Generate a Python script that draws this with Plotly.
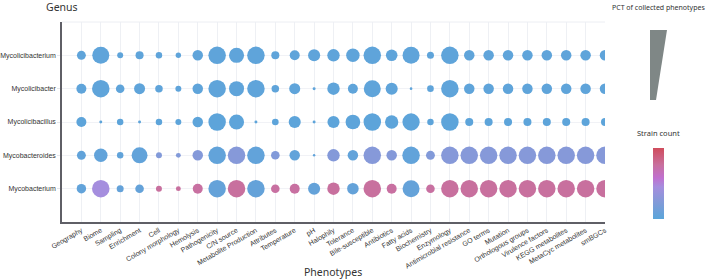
import plotly.graph_objects as go

phenotypes = ["Geography", "Biome", "Sampling", "Enrichment", "Cell", "Colony morphology",
              "Hemolysis", "Pathogenicity", "C/N source", "Metabolite Production", "Attributes",
              "Temperature", "pH", "Halophily", "Tolerance", "Bile-susceptible", "Antibiotics",
              "Fatty acids", "Biochemistry", "Enzymology", "Antimicrobial resistance", "GO terms",
              "Mutation", "Orthologous groups", "Virulence factors", "KEGG metabolites",
              "MetaCyc metabolites", "smBGCs"]

genera = ["Mycobacterium", "Mycobacteroides", "Mycolicibacillus", "Mycolicibacter", "Mycolicibacterium"]

# PCT of collected phenotypes (per genus, per phenotype)
pct_mycolicibacterium = [51, 97, 34, 46, 37, 31, 60, 100, 86, 100, 46, 57, 69, 71, 77, 100, 66, 97, 40, 100,
                         60, 60, 60, 60, 60, 60, 60, 60]
pct_mycolicibacter = [57, 100, 49, 63, 43, 34, 60, 100, 86, 100, 43, 63, 17, 71, 57, 97, 69, 15, 38, 100,
                      60, 60, 60, 60, 60, 60, 60, 60]
pct_mycolicibacillus = [57, 17, 37, 17, 37, 34, 60, 100, 86, 17, 38, 69, 17, 69, 84, 100, 76, 99, 37, 100,
                        46, 46, 46, 46, 46, 46, 46, 46]
pct_mycobacteroides = [51, 77, 37, 91, 34, 28, 60, 100, 100, 100, 49, 60, 14, 71, 60, 100, 60, 100, 51, 100,
                       100, 100, 100, 100, 100, 100, 100, 100]
pct_mycobacterium = [54, 100, 40, 49, 34, 28, 57, 100, 100, 100, 49, 57, 69, 71, 66, 100, 57, 97, 49, 100,
                     100, 100, 100, 100, 100, 100, 100, 100]

# Strain count (colour)
strain_mycolicibacterium = [3] * 28
strain_mycolicibacter = [3] * 28
strain_mycolicibacillus = [2] * 28
strain_mycobacteroides = [4, 5, 4, 5, 24, 24, 25, 5, 26, 5, 24, 5, 4, 25, 5, 26, 25, 5, 24, 26,
                          26, 26, 26, 26, 26, 26, 26, 26]
strain_mycobacterium = [5, 45, 6, 6, 76, 76, 75, 6, 76, 6, 75, 75, 6, 76, 6, 76, 75, 6, 75, 76,
                        76, 76, 76, 76, 76, 76, 76, 76]

pct_rows = [pct_mycobacterium, pct_mycobacteroides, pct_mycolicibacillus, pct_mycolicibacter, pct_mycolicibacterium]
strain_rows = [strain_mycobacterium, strain_mycobacteroides, strain_mycolicibacillus, strain_mycolicibacter, strain_mycolicibacterium]

xs, ys, sizes, colors = [], [], [], []
for g, prow, srow in zip(genera, pct_rows, strain_rows):
    for p, v, s in zip(phenotypes, prow, srow):
        xs.append(p)
        ys.append(g)
        sizes.append(v)
        colors.append(s)

colorscale = [[0.0, "#5aa5da"], [0.22, "#7f9bd8"], [0.45, "#a58ede"], [0.58, "#c070cf"],
              [0.76, "#c8709e"], [1.0, "#d04c5c"]]

W, H = 708, 280
L, R, T, B = 62, 605, 22, 222

def px(x):
    return (x - L) / (R - L)

def py(y):
    return (B - y) / (B - T)

fig = go.Figure()
fig.add_trace(go.Scatter(
    x=xs, y=ys, mode="markers",
    marker=dict(size=sizes, sizemode="diameter", sizeref=100 / 17.5, sizemin=1,
                color=colors, cmin=0, cmax=100, colorscale=colorscale,
                line=dict(width=0), opacity=1,
                colorbar=dict(x=px(653), xanchor="left", xpad=0, ypad=0,
                              y=py(183.5), yanchor="middle",
                              lenmode="pixels", len=71, thickness=11,
                              outlinewidth=0, showticklabels=False, ticks="")),
    hoverinfo="skip", showlegend=False))

# size legend (gray wedge)
path = "M {a},{b} L {c},{b} L {d},{e} L {a2},{e} Z".format(
    a=px(650), b=py(30), c=px(667), d=px(656), e=py(100), a2=px(650))
shapes = [
    dict(type="path", xref="paper", yref="paper", path=path,
         fillcolor="#7f8786", line=dict(width=0)),
    dict(type="line", xref="paper", yref="paper", x0=0, x1=1, y0=1, y1=1,
         line=dict(color="#eceef3", width=1)),
]

annotations = [
    dict(text="Genus", x=0, y=py(7), xref="paper", yref="paper", showarrow=False,
         font=dict(family="Noto Sans", size=10.5, color="#333333"), xanchor="center", yanchor="middle"),
    dict(text="Phenotypes", x=px(333), y=py(272), xref="paper", yref="paper", showarrow=False,
         font=dict(family="Noto Sans", size=10.5, color="#333333"), xanchor="center", yanchor="middle"),
    dict(text="PCT of collected phenotypes", x=px(707), y=py(8), xref="paper", yref="paper",
         showarrow=False, font=dict(family="Noto Sans", size=7, color="#333333"),
         xanchor="right", yanchor="middle"),
    dict(text="Strain count", x=px(658.5), y=py(133), xref="paper", yref="paper",
         showarrow=False, font=dict(family="Noto Sans", size=7.5, color="#333333"),
         xanchor="center", yanchor="middle"),
]

fig.update_layout(
    width=W, height=H,
    margin=dict(l=L, r=W - R, t=T, b=H - B, autoexpand=False),
    paper_bgcolor="white", plot_bgcolor="white",
    shapes=shapes, annotations=annotations,
    xaxis=dict(type="category", categoryorder="array", categoryarray=phenotypes,
               range=[-1, 27], showgrid=True, gridcolor="#eef0f4", gridwidth=1,
               showline=True, linecolor="#5f5f66", linewidth=1.5, zeroline=False, automargin=False,
               tickangle=-30, ticks="", tickfont=dict(family="Liberation Sans", size=7, color="#333333")),
    yaxis=dict(type="category", categoryorder="array", categoryarray=genera,
               range=[-1, 5], showgrid=True, gridcolor="#f1f2f6", gridwidth=1,
               showline=True, linecolor="#5f5f66", linewidth=1.5, zeroline=False, automargin=False,
               ticks="outside", ticklen=3, tickcolor="#e4e6ea",
               tickfont=dict(family="Liberation Sans", size=7, color="#333333")),
)

fig.write_html("out.html", config={"displayModeBar": False},
               post_script="document.body.style.margin='0px';document.body.style.overflow='hidden';")
